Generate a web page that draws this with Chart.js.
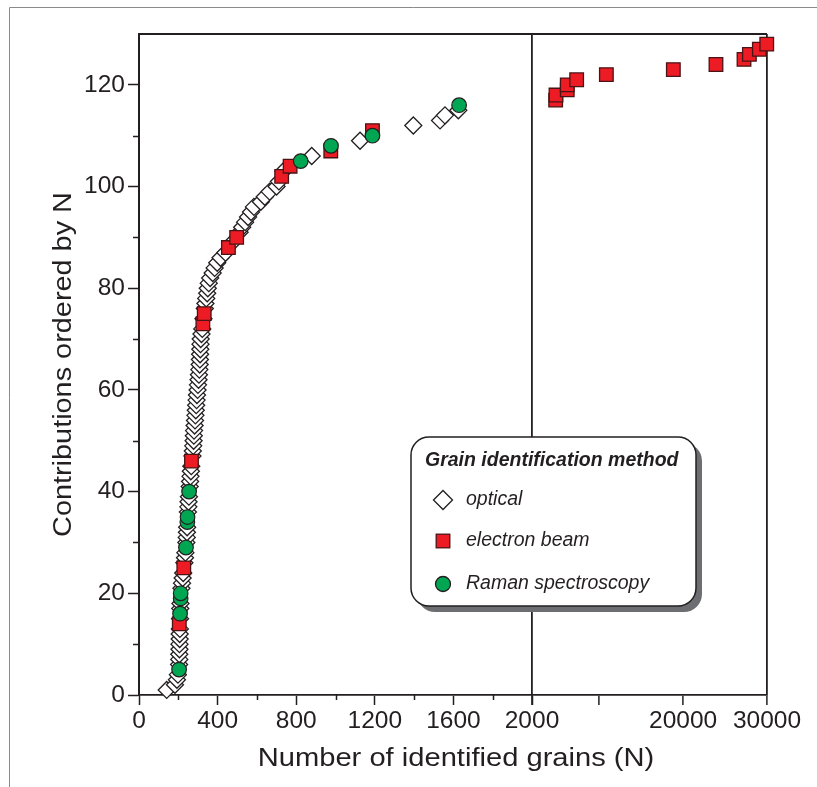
<!DOCTYPE html>
<html>
<head>
<meta charset="utf-8">
<script src="https://cdn.jsdelivr.net/npm/chart.js@4.4.0/dist/chart.umd.min.js"></script>
<style>
  html, body { margin: 0; padding: 0; background: #fff; }
  #wrap { position: relative; width: 817px; height: 787px; }
</style>
</head>
<body>
<div id="wrap"><canvas id="chart" width="817" height="787"></canvas></div>
<script>
// contributions ordered by number of identified grains (N)
const opticalRank = [1, 2, 3, 4, 6, 7, 8, 9, 10, 11, 12, 13, 15, 17, 18, 21, 22, 23, 24, 26, 27, 28,
  30, 31, 32, 33, 36, 37, 38, 39, 41, 42, 43, 44, 45, 47, 48, 49, 50, 51, 52, 53, 54, 55, 56, 57,
  58, 59, 60, 61, 62, 63, 64, 65, 66, 67, 68, 69, 70, 71, 72, 74, 76, 77, 78, 79, 80, 81, 82, 83,
  84, 85, 86, 87, 89, 91, 92, 93, 94, 95, 96, 97, 98, 99, 100, 101, 103, 106, 109, 112, 113, 114, 115];
const opticalN = [141, 183, 193, 198, 204, 205, 205, 206, 206, 207, 207, 208, 209, 210, 211, 216, 219, 222, 225, 231, 234, 236,
  241, 243, 244, 245, 249, 251, 252, 254, 258, 260, 262, 264, 266, 272, 274, 276, 278, 279, 280, 283, 285, 287, 289, 291,
  293, 295, 298, 300, 303, 305, 307, 309, 310, 311, 312, 313, 314, 318, 322, 328, 335, 338, 342, 347, 350, 355, 362, 375,
  385, 398, 415, 440, 475, 512, 525, 540, 555, 570, 585, 620, 640, 665, 700, 712, 735, 879, 1125, 1396, 1532, 1557, 1625];

const electronRank = [14, 25, 46, 73, 75, 88, 90, 102, 104, 107, 111];
const electronN = [205, 228, 267, 325, 332, 455, 497, 726, 769, 976, 1188];
const electronHighRank = [117, 118, 119, 120, 121, 122, 123, 124, 125, 126, 127, 128];
const electronHighN = [4820, 4860, 6200, 6200, 7320, 10860, 18840, 23920, 27260, 27900, 29090, 29970];

const ramanRank = [5, 16, 19, 20, 29, 34, 35, 40, 105, 108, 110, 116];
const ramanN = [204, 209, 212, 212, 239, 246, 247, 255, 823, 977, 1188, 1629];

const yLabels = [0, 20, 40, 60, 80, 100, 120];
const xLowLabels = [0, 400, 800, 1200, 1600];
const xHighTicks = [2000, 10000, 20000, 30000];
const xHighLabels = [2000, 20000, 30000];

const legendTitle = 'Grain identification method';
const legendItems = ['optical', 'electron beam', 'Raman spectroscopy'];

const DARK = '#231f20';
const CLEAR = 'rgba(0,0,0,0)';
const FONT = '"Liberation Sans", Arial, Helvetica, sans-serif';

Chart.defaults.font.family = FONT;
Chart.defaults.color = DARK;

const pts = (xs, ys) => xs.map((x, i) => ({ x: x, y: ys[i] }));

const styles = {
  optical: { pointStyle: 'rectRot', pointRadius: 8.5, backgroundColor: '#ffffff', borderColor: DARK, borderWidth: 1.3 },
  electron: { pointStyle: 'rect', pointRadius: 9.6, backgroundColor: '#ed1c24', borderColor: '#4a1315', borderWidth: 1.3 },
  raman: { pointStyle: 'circle', pointRadius: 7.3, backgroundColor: '#00a651', borderColor: DARK, borderWidth: 1.2 }
};

// frame, minor ticks, axis titles and the legend box
const decor = {
  id: 'decor',
  beforeDraw(chart) {
    const ctx = chart.ctx;
    ctx.save();
    ctx.strokeStyle = '#8a8a8a';
    ctx.lineWidth = 1;
    ctx.beginPath();
    ctx.moveTo(9.5, 787);
    ctx.lineTo(9.5, 7.5);
    ctx.lineTo(817, 7.5);
    ctx.stroke();
    ctx.restore();
  },
  afterDraw(chart) {
    const ctx = chart.ctx;
    const a = chart.chartArea;
    const y = chart.scales.y, xL = chart.scales.xL;
    ctx.save();
    ctx.strokeStyle = DARK;
    ctx.lineWidth = 1.8;
    ctx.beginPath();
    ctx.moveTo(a.left, a.top);
    ctx.lineTo(a.right, a.top);
    ctx.stroke();

    // minor ticks
    ctx.lineWidth = 1.5;
    ctx.beginPath();
    for (let v = 10; v < 130; v += 20) {
      const py = Math.round(y.getPixelForValue(v)) + 0.5;
      ctx.moveTo(a.left - 6, py);
      ctx.lineTo(a.left, py);
    }
    for (let v = 200; v < 2000; v += 400) {
      const px = Math.round(xL.getPixelForValue(v)) + 0.5;
      ctx.moveTo(px, a.bottom);
      ctx.lineTo(px, a.bottom + 5);
    }
    ctx.stroke();

    // axis titles, drawn a little wide like the original
    ctx.fillStyle = DARK;
    ctx.font = '26px ' + FONT;
    ctx.textAlign = 'center';
    ctx.textBaseline = 'alphabetic';
    ctx.save();
    ctx.translate((a.left + a.right) / 2 + 3, 766);
    ctx.scale(1.12, 1);
    ctx.fillText('Number of identified grains (N)', 0, 0);
    ctx.restore();
    ctx.save();
    ctx.translate(71, (a.top + a.bottom) / 2);
    ctx.rotate(-Math.PI / 2);
    ctx.scale(1.11, 1);
    ctx.fillText('Contributions ordered by N', 0, 0);
    ctx.restore();

    // legend box
    const bx = 411, by = 437, bw = 285, bh = 169, r = 18;
    ctx.fillStyle = '#6d6e71';
    ctx.beginPath();
    ctx.roundRect(bx + 6, by + 6, bw, bh, r);
    ctx.fill();
    ctx.fillStyle = '#ffffff';
    ctx.strokeStyle = DARK;
    ctx.lineWidth = 1.5;
    ctx.beginPath();
    ctx.roundRect(bx, by, bw, bh, r);
    ctx.fill();
    ctx.stroke();

    ctx.fillStyle = DARK;
    ctx.textAlign = 'left';
    ctx.textBaseline = 'middle';
    ctx.font = 'italic bold 19.5px ' + FONT;
    ctx.fillText(legendTitle, 425, 461);
    ctx.font = 'italic 19.5px ' + FONT;
    const rows = [500, 541, 584];
    const mx = 443;
    legendItems.forEach((t, i) => ctx.fillText(t, 466, rows[i]));

    // legend markers
    ctx.lineWidth = 1.3;
    ctx.fillStyle = '#ffffff';
    ctx.strokeStyle = DARK;
    ctx.beginPath();
    ctx.moveTo(mx - 9.5, rows[0]);
    ctx.lineTo(mx, rows[0] - 9.5);
    ctx.lineTo(mx + 9.5, rows[0]);
    ctx.lineTo(mx, rows[0] + 9.5);
    ctx.closePath();
    ctx.fill();
    ctx.stroke();
    ctx.fillStyle = '#ed1c24';
    ctx.strokeStyle = '#4a1315';
    ctx.fillRect(mx - 6.8, rows[1] - 6.8, 13.6, 13.6);
    ctx.strokeRect(mx - 6.8, rows[1] - 6.8, 13.6, 13.6);
    ctx.fillStyle = '#00a651';
    ctx.strokeStyle = DARK;
    ctx.beginPath();
    ctx.arc(mx, rows[2], 7.5, 0, Math.PI * 2);
    ctx.fill();
    ctx.stroke();
    ctx.restore();
  }
};

new Chart(document.getElementById('chart'), {
  type: 'scatter',
  data: {
    datasets: [
      Object.assign({ label: 'Raman spectroscopy', data: pts(ramanN, ramanRank), xAxisID: 'xL', yAxisID: 'y', clip: false }, styles.raman),
      Object.assign({ label: 'electron beam', data: pts(electronN, electronRank), xAxisID: 'xL', yAxisID: 'y', clip: false }, styles.electron),
      Object.assign({ label: 'electron beam (high N)', data: pts(electronHighN, electronHighRank), xAxisID: 'xR', yAxisID: 'y', clip: false }, styles.electron),
      Object.assign({ label: 'optical', data: pts(opticalN, opticalRank), xAxisID: 'xL', yAxisID: 'y', clip: false }, styles.optical)
    ]
  },
  options: {
    responsive: false,
    animation: false,
    devicePixelRatio: 1,
    layout: { padding: { left: 44, top: 34, right: 50, bottom: 0 } },
    plugins: {
      legend: { display: false },
      tooltip: { enabled: false }
    },
    scales: {
      y: {
        position: 'left',
        min: 0,
        max: 130,
        afterFit: (s) => { s.width = 95; },
        ticks: {
          stepSize: 10,
          autoSkip: false,
          padding: 3,
          font: { size: 24.5 },
          color: DARK,
          callback: (v) => (yLabels.includes(v) ? String(v) : '')
        },
        grid: {
          drawOnChartArea: false,
          tickLength: 11,
          tickWidth: 1.5,
          tickColor: (c) => (c.tick && yLabels.includes(c.tick.value) ? DARK : CLEAR)
        },
        border: { color: DARK, width: 2 }
      },
      xL: {
        type: 'linear',
        position: 'bottom',
        stack: 'grains',
        stackWeight: 393,
        min: 0,
        max: 2000,
        afterFit: (s) => { s.height = 92; },
        ticks: {
          stepSize: 200,
          autoSkip: false,
          maxRotation: 0,
          padding: 2,
          font: { size: 24.5 },
          color: DARK,
          callback: (v) => (xLowLabels.includes(v) ? String(v) : '')
        },
        grid: {
          drawOnChartArea: false,
          tickLength: 10,
          tickWidth: 1.5,
          tickColor: (c) => (c.tick && c.tick.value % 400 === 0 ? DARK : CLEAR)
        },
        border: { color: DARK, width: 1.8 }
      },
      xR: {
        type: 'linear',
        position: 'bottom',
        stack: 'grains',
        stackWeight: 235,
        min: 2000,
        max: 30000,
        afterFit: (s) => { s.height = 92; },
        afterBuildTicks: (s) => { s.ticks = xHighTicks.map((v) => ({ value: v })); },
        ticks: {
          autoSkip: false,
          maxRotation: 0,
          padding: 2,
          font: { size: 24.5 },
          color: DARK,
          callback: (v) => (xHighLabels.includes(v) ? String(v) : '')
        },
        grid: {
          drawOnChartArea: true,
          tickLength: 10,
          tickWidth: 1.5,
          tickColor: DARK,
          lineWidth: 1.8,
          color: (c) => (c.tick && (c.tick.value === 2000 || c.tick.value === 30000) ? DARK : CLEAR)
        },
        border: { color: DARK, width: 1.8 }
      }
    }
  },
  plugins: [decor]
});
</script>
</body>
</html>
